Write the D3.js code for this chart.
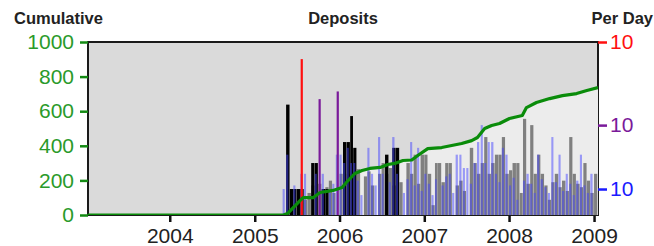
<!DOCTYPE html>
<html>
<head>
<meta charset="utf-8">
<script src="https://cdn.jsdelivr.net/npm/d3@7"></script>
<style>
body { margin: 0; background: #fff; }
svg { display: block; font-family: "Liberation Sans", Arial, sans-serif; }
</style>
</head>
<body>
<script>
// half-month bins, 1st and 16th of each month
var binDates = [
	"2005-05-01","2005-05-16","2005-06-01","2005-06-16","2005-07-01","2005-07-16","2005-08-01","2005-08-16","2005-09-01","2005-09-16",
	"2005-10-01","2005-10-16","2005-11-01","2005-11-16","2005-12-01","2005-12-16","2006-01-01","2006-01-16","2006-02-01","2006-02-16",
	"2006-03-01","2006-03-16","2006-04-01","2006-04-16","2006-05-01","2006-05-16","2006-06-01","2006-06-16","2006-07-01","2006-07-16",
	"2006-08-01","2006-08-16","2006-09-01","2006-09-16","2006-10-01","2006-10-16","2006-11-01","2006-11-16","2006-12-01","2006-12-16",
	"2007-01-01","2007-01-16","2007-02-01","2007-02-16","2007-03-01","2007-03-16","2007-04-01","2007-04-16","2007-05-01","2007-05-16",
	"2007-06-01","2007-06-16","2007-07-01","2007-07-16","2007-08-01","2007-08-16","2007-09-01","2007-09-16","2007-10-01","2007-10-16",
	"2007-11-01","2007-11-16","2007-12-01","2007-12-16","2008-01-01","2008-01-16","2008-02-01","2008-02-16","2008-03-01","2008-03-16",
	"2008-04-01","2008-04-16","2008-05-01","2008-05-16","2008-06-01","2008-06-16","2008-07-01","2008-07-16","2008-08-01","2008-08-16",
	"2008-09-01","2008-09-16","2008-10-01","2008-10-16","2008-11-01","2008-11-16","2008-12-01","2008-12-16","2009-01-01"
];

// deposits per day (right axis)
var grayVals = [
	0,0,0,0,0,0,0.5,0.8,1.2,0,
	1.3,0.9,1.1,1.5,0.8,0,2,0,2,0,
	2,2.4,0,1.8,2.2,1.2,0,2,3,2,
	2.5,1.2,3,1.4,0,3,2,4,1.3,4,
	4,2,0.3,3,3,1.4,3,3,0,1.2,
	1.5,0.9,0,5,3,2,3,7,2,3,
	4,4,7,2,2.3,3,3,0.8,12,1.3,
	10,2,4,2,1.2,0.5,1.4,2,1.1,1.5,
	0.9,7,2,1.3,1.1,3,1.5,0.8,2
];
var blackVals = [
	0,18,1,1,1,1,0,0,3,3,
	0,1,1,0,0,0,0,6,6,13,
	5,0,0,0,0,0,0,0,0,4,
	0,5,5,0,0,0,0,0,0,0,
	0,0,0,0,0,0,0,0,0,0,
	0,0,0,0,0,0,0,0,0,0,
	0,0,0,0,0,0,0,0,0,0,
	0,0,0,0,0,0,0,0,0,0,
	0,0,0,0,0,0,0,0,0
];
var blueVals = [
	1,4,0,1.2,0,2,2,0,0,2,
	0,2,0,0.8,1.3,4,4,3,5,3,
	3,1.5,0.7,0,5,2,1.2,7,2,0,
	1.4,7,2,0,0.8,1.6,6,1.2,5,0.9,
	2,1.3,0.7,1.6,0,1.2,1.8,2,0.8,4,
	4,2.5,2.5,1.3,3,6,10,3,6,6,
	2,1.4,5,4,1.2,1.7,0.5,0,1.5,2,
	1.3,0.8,4,1.6,1.1,0.8,7,1.4,4,0.9,
	2,1.3,0.7,1.5,4,1.2,0.8,2,0
];

// single-day spikes
var spikeDates = ["2005-07-22", "2005-10-07", "2005-12-24"];
var spikeVals = [63, 21, 26];

// cumulative deposits (left axis)
var cumDates = [
	"2003-01-14","2005-05-04","2005-05-22","2005-07-16","2005-07-28","2005-09-09","2005-10-09","2005-12-04",
	"2006-01-12","2006-02-07","2006-03-08","2006-04-08","2006-05-12","2006-06-25","2006-07-28","2006-08-27",
	"2006-10-01","2006-11-08","2006-12-04","2007-01-16","2007-03-17","2007-04-29","2007-06-11","2007-07-24",
	"2007-08-18","2007-09-18","2007-10-18","2007-11-21","2008-01-03","2008-02-27","2008-03-16","2008-04-28",
	"2008-06-24","2008-08-18","2008-10-18","2008-12-01","2009-01-18"
];
var cumVals = [
	0,0,8,84,100,100,130,142,
	159,199,240,257,269,275,292,298,
	315,318,344,384,390,402,413,430,
	448,500,517,529,558,575,621,650,
	673,690,702,720,737
];

var cumTicks = [0, 200, 400, 600, 800, 1000];
var dayTicks = [1, 10, 100];
var dayTickLabels = ["10", "10", "10"];

var width = 654, height = 246;
var plot = {left: 88, right: 598, top: 42, bottom: 215};
var parse = d3.timeParse("%Y-%m-%d");

var svg = d3.select("body").append("svg")
	.attr("width", width)
	.attr("height", height);

var x = d3.scaleTime()
	.domain([parse("2003-01-14"), parse("2009-01-18")])
	.range([plot.left, plot.right]);
var yCum = d3.scaleLinear().domain([0, 1000]).range([plot.bottom, plot.top]);
var yDay = d3.scaleSymlog().constant(1).domain([0, 100]).range([plot.bottom, plot.top]);

var dayColor = d3.scaleThreshold().domain([1.5, 15]).range(["#1a1aff", "#7a1a9a", "#ff1010"]);
var spikeColor = d3.scaleThreshold().domain([50]).range(["#7a1a9a", "#ff1010"]);

svg.append("clipPath").attr("id", "plotclip")
	.append("rect")
	.attr("x", plot.left).attr("y", plot.top)
	.attr("width", plot.right - plot.left).attr("height", plot.bottom - plot.top);

// background + frame
svg.append("rect")
	.attr("x", plot.left).attr("y", plot.top)
	.attr("width", plot.right - plot.left).attr("height", plot.bottom - plot.top)
	.attr("fill", "#dadada")
	.attr("stroke", "#1a1a1a")
	.attr("stroke-width", 2);

var cum = cumDates.map((d, i) => ({date: parse(d), value: cumVals[i]}));

var area = d3.area()
	.x(d => x(d.date))
	.y0(plot.bottom)
	.y1(d => yCum(d.value));

var content = svg.append("g").attr("clip-path", "url(#plotclip)");

content.append("path")
	.datum(cum)
	.attr("d", area)
	.attr("fill", "#ececec");

var bins = binDates.map((d, i) => {
	var start = parse(d);
	var end = start.getDate() == 1 ? d3.timeDay.offset(start, 15) : d3.timeMonth.offset(d3.timeMonth.floor(start), 1);
	return {start: start, end: end, gray: grayVals[i], black: blackVals[i], blue: blueVals[i]};
});

function drawBars(key, color, frac, opacity) {
	content.append("g")
		.selectAll("rect")
		.data(bins.filter(d => d[key] > 0))
		.enter()
		.append("rect")
		.attr("x", d => x(d.start))
		.attr("y", d => yDay(d[key]))
		.attr("width", d => (x(d.end) - x(d.start)) * frac)
		.attr("height", d => plot.bottom - yDay(d[key]))
		.attr("fill", color)
		.attr("opacity", opacity);
}

drawBars("gray", "#808080", 0.92, 1);
drawBars("black", "#000", 0.92, 1);
drawBars("blue", "#4444ff", 0.6, 0.5);

content.append("g")
	.selectAll("rect")
	.data(spikeDates.map((d, i) => ({date: parse(d), value: spikeVals[i]})))
	.enter()
	.append("rect")
	.attr("x", d => x(d.date) - 1)
	.attr("y", d => yDay(d.value))
	.attr("width", 2.2)
	.attr("height", d => plot.bottom - yDay(d.value))
	.attr("fill", d => spikeColor(d.value));

content.append("path")
	.datum(cum)
	.attr("d", d3.line().x(d => x(d.date)).y(d => yCum(d.value)))
	.attr("fill", "none")
	.attr("stroke", "#0a8c0a")
	.attr("stroke-width", 3.2)
	.attr("stroke-linejoin", "round");

// left axis
var leftAxis = svg.append("g")
	.attr("transform", `translate(${plot.left}, 0)`)
	.call(d3.axisLeft(yCum).tickValues(cumTicks).tickSize(8).tickPadding(6).tickFormat(d3.format("d")));
leftAxis.select(".domain").remove();
leftAxis.selectAll(".tick line").attr("stroke", "#138a13").attr("stroke-width", 2.5);
leftAxis.selectAll(".tick text")
	.attr("fill", "#2a9a2a")
	.style("font-size", "21px")
	.style("font-family", "Liberation Sans, Arial, sans-serif");

// right axis
var rightAxis = svg.append("g")
	.attr("transform", `translate(${plot.right}, 0)`)
	.call(d3.axisRight(yDay).tickValues(dayTicks).tickSize(9).tickPadding(3)
		.tickFormat((d, i) => dayTickLabels[i]));
rightAxis.select(".domain").remove();
rightAxis.selectAll(".tick line").attr("stroke", d => dayColor(d)).attr("stroke-width", 2.5);
rightAxis.selectAll(".tick text")
	.attr("fill", d => dayColor(d))
	.style("font-size", "21px")
	.style("font-family", "Liberation Sans, Arial, sans-serif");

// bottom axis
var bottomAxis = svg.append("g")
	.attr("transform", `translate(0, ${plot.bottom + 1})`)
	.call(d3.axisBottom(x).ticks(d3.timeYear).tickFormat(d3.timeFormat("%Y")).tickSize(6).tickPadding(6));
bottomAxis.select(".domain").remove();
bottomAxis.selectAll(".tick line").attr("stroke", "#111").attr("stroke-width", 2.5);
bottomAxis.selectAll(".tick text")
	.attr("fill", "#222")
	.style("font-size", "21px")
	.style("font-family", "Liberation Sans, Arial, sans-serif");

// titles
var titles = svg.append("g")
	.style("font-size", "16.5px")
	.style("font-weight", "bold")
	.attr("fill", "#222");
titles.append("text").attr("x", 14).attr("y", 24).text("Cumulative");
titles.append("text").attr("x", (plot.left + plot.right) / 2).attr("y", 24).attr("text-anchor", "middle").text("Deposits");
titles.append("text").attr("x", 653).attr("y", 24).attr("text-anchor", "end").text("Per Day");
</script>
</body>
</html>
